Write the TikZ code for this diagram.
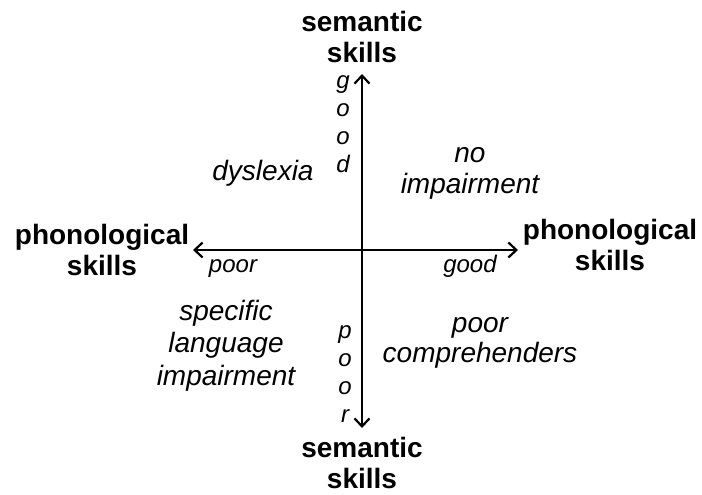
\documentclass[tikz,border=0pt]{standalone}
\usepackage{fontspec}
\setmainfont{Liberation Sans}
\usetikzlibrary{arrows.meta}
\begin{document}
\begin{tikzpicture}[x=1pt,y=-1pt,
  axis/.style={line width=2.2pt,{Straight Barb[length=8pt,width=15pt]}-{Straight Barb[length=8pt,width=15pt]}},
  dimlabel/.style={font=\bfseries\fontsize{28}{31}\selectfont,align=center,anchor=base,inner sep=0pt},
  quadlabel/.style={font=\itshape\fontsize{28}{32}\selectfont,align=center,anchor=base,inner sep=0pt},
  ticklabel/.style={font=\itshape\fontsize{24}{28}\selectfont,align=center,anchor=base,inner sep=0pt}]
\useasboundingbox (0,0) rectangle (702,495);
% axes
\coordinate (vt) at (362,74);
\coordinate (vb) at (362,428);
\coordinate (hl) at (193,250);
\coordinate (hr) at (518,250);
\draw[axis] (vb) -- (vt);
\draw[axis] (hl) -- (hr);
% axis titles (anchor = baseline of last line)
\node[dimlabel] (semtop) at (362,63) {semantic\\skills};
\node[dimlabel] (sembot) at (362,488) {semantic\\skills};
\node[dimlabel] (phonl) at (102,275) {phonological\\skills};
\node[dimlabel] (phonr) at (610,270) {phonological\\skills};
% tick labels
\node[ticklabel] (vgood) at (343,172) {g\\o\\o\\d};
\node[ticklabel] (vpoor) at (345,422) {p\\o\\o\\r};
\node[ticklabel] (hpoor) at (233,272) {poor};
\node[ticklabel] (hgood) at (470,272) {good};
% quadrants
\node[quadlabel] (dys) at (263,180) {dyslexia};
\node[quadlabel,font=\itshape\fontsize{28}{31}\selectfont] (noimp) at (470,193) {no\\impairment};
\node[quadlabel,font=\itshape\fontsize{28}{32.5}\selectfont] (sli) at (226,385) {specific\\language\\impairment};
\node[quadlabel,font=\itshape\fontsize{28}{30}\selectfont] (pc) at (480,362) {poor\\comprehenders};
\end{tikzpicture}
\end{document}
